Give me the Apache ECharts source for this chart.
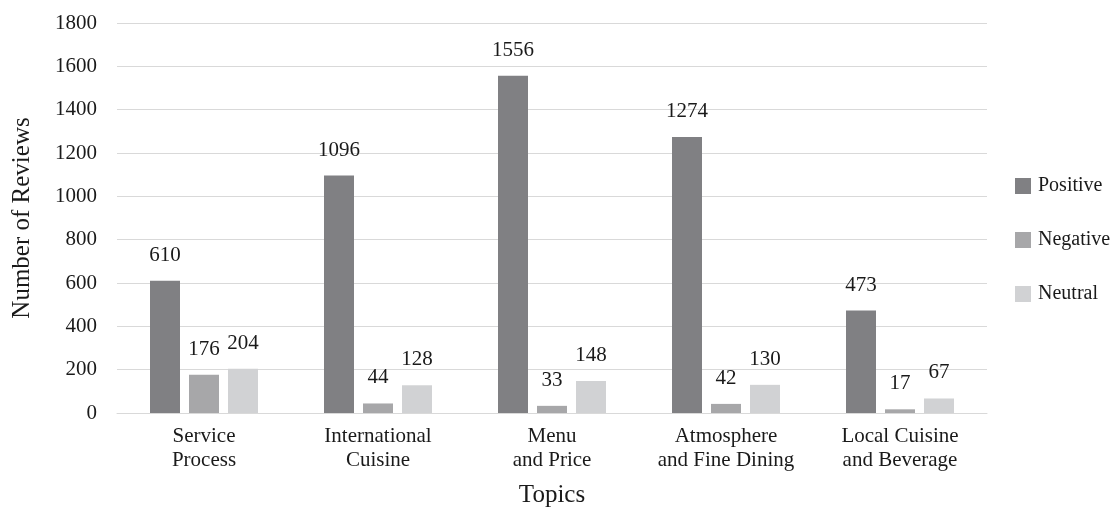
<!DOCTYPE html>
<html>
<head>
<meta charset="utf-8">
<script src="https://cdn.jsdelivr.net/npm/echarts@6/dist/echarts.min.js"></script>
<style>
  html, body { margin: 0; padding: 0; background: #fff; }
  #chart { width: 1116px; height: 511px; }
</style>
</head>
<body>
<div id="chart"></div>
<script>
// Review counts per topic, split by sentiment
const topics = ['Service\nProcess', 'International\nCuisine', 'Menu\nand Price', 'Atmosphere\nand Fine Dining', 'Local Cuisine\nand Beverage'];
const positive = [610, 1096, 1556, 1274, 473];
const negative = [176, 44, 33, 42, 17];
const neutral = [204, 128, 148, 130, 67];
const seriesNames = ['Positive', 'Negative', 'Neutral'];
const colors = ['#808083', '#a7a7a9', '#d1d2d4'];

const FONT = '"Liberation Serif", "DejaVu Serif", serif';
const TEXT = '#1a1a1a';

const chart = echarts.init(document.getElementById('chart'), null, { renderer: 'canvas' });

const makeSeries = (name, data, color) => ({
  name,
  type: 'bar',
  data,
  barWidth: 30,
  barGap: '30%',
  itemStyle: { color },
  label: {
    show: true,
    position: 'top',
    distance: 15,
    fontFamily: FONT,
    fontSize: 21,
    color: TEXT
  }
});

chart.setOption({
  animation: false,
  textStyle: { fontFamily: FONT },
  grid: { left: 117, right: 129, top: 23, bottom: 98, outerBoundsMode: 'none', containLabel: false },
  legend: {
    orient: 'vertical',
    left: 1010,
    top: 171,
    itemWidth: 16,
    itemHeight: 16,
    itemGap: 34,
    icon: 'rect',
    textStyle: { fontFamily: FONT, fontSize: 20, color: TEXT, padding: [0, 0, 0, 2] },
    data: seriesNames
  },
  xAxis: {
    type: 'category',
    data: topics,
    name: 'Topics',
    nameLocation: 'middle',
    nameGap: 70,
    nameTextStyle: { fontFamily: FONT, fontSize: 25, color: TEXT },
    axisLine: { lineStyle: { color: '#d9d9d9', width: 1 } },
    axisTick: { show: false },
    axisLabel: { interval: 0, fontFamily: FONT, fontSize: 21, color: TEXT, lineHeight: 24, margin: 11 }
  },
  yAxis: {
    type: 'value',
    min: 0,
    max: 1800,
    interval: 200,
    name: 'Number of Reviews',
    nameLocation: 'middle',
    nameGap: 82,
    nameTextStyle: { fontFamily: FONT, fontSize: 25, color: TEXT },
    axisLine: { show: false },
    axisTick: { show: false },
    splitLine: { lineStyle: { color: '#d9d9d9', width: 1 } },
    axisLabel: { fontFamily: FONT, fontSize: 21, color: TEXT, margin: 20, formatter: v => String(v) }
  },
  series: [
    makeSeries(seriesNames[0], positive, colors[0]),
    makeSeries(seriesNames[1], negative, colors[1]),
    makeSeries(seriesNames[2], neutral, colors[2])
  ]
});
</script>
</body>
</html>
